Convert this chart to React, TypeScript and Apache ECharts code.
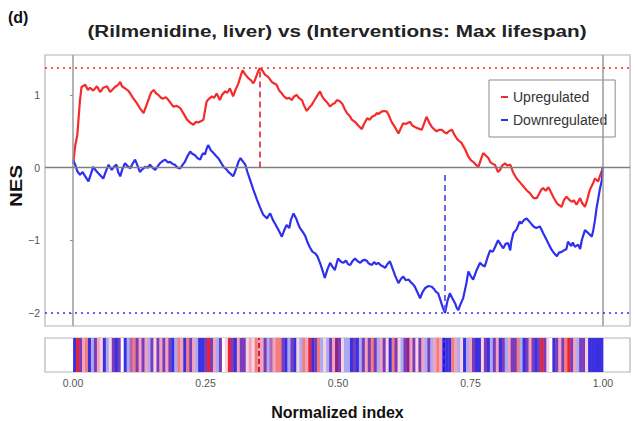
import React, { useEffect, useRef } from "react";
import * as echarts from "echarts";

const titleText = "(Rilmenidine, liver) vs (Interventions: Max lifespan)";
const panelLabel = "(d)";
const yAxisTitle = "NES";
const xAxisTitle = "Normalized index";
const seriesNames = ["Upregulated", "Downregulated"];
const yTicks = [-2, -1, 0, 1];
const xTicks = [0, 0.25, 0.5, 0.75, 1];

const upMax = 1.367;
const upMaxAt = 0.352;
const downMin = -2.005;
const downMinAt = 0.702;

const upregulated: [number, number][] = [
  [0.0, 0.05], [0.004, 0.3], [0.008, 0.45], [0.013, 0.93], [0.016, 1.11], [0.023, 1.14], [0.028, 1.07],
  [0.032, 1.1], [0.038, 1.06], [0.045, 1.12], [0.051, 1.04], [0.057, 1.1], [0.064, 1.12], [0.07, 1.04],
  [0.075, 1.08], [0.079, 1.11], [0.085, 1.14], [0.089, 1.18], [0.092, 1.12], [0.098, 1.09], [0.104, 1.06],
  [0.108, 1.02], [0.113, 0.96], [0.12, 0.89], [0.126, 0.82], [0.133, 0.75], [0.138, 0.85], [0.142, 0.93],
  [0.147, 1.03], [0.152, 1.07], [0.157, 1.02], [0.161, 1.0], [0.166, 0.96], [0.17, 0.95], [0.175, 0.97],
  [0.18, 0.93], [0.185, 0.88], [0.189, 0.84], [0.196, 0.85], [0.202, 0.82], [0.208, 0.75], [0.215, 0.66],
  [0.221, 0.62], [0.227, 0.59], [0.232, 0.63], [0.236, 0.62], [0.242, 0.64], [0.246, 0.66], [0.252, 0.91],
  [0.257, 0.95], [0.262, 0.98], [0.266, 0.96], [0.271, 1.02], [0.277, 0.93], [0.281, 1.0], [0.287, 1.05],
  [0.291, 1.03], [0.296, 1.09], [0.302, 0.98], [0.307, 1.08], [0.312, 1.16], [0.317, 1.28], [0.32, 1.34],
  [0.325, 1.28], [0.331, 1.23], [0.336, 1.2], [0.34, 1.16], [0.343, 1.2], [0.348, 1.3], [0.352, 1.367],
  [0.357, 1.34], [0.362, 1.28], [0.368, 1.25], [0.375, 1.18], [0.379, 1.16], [0.384, 1.14], [0.389, 1.06],
  [0.394, 1.02], [0.398, 0.98], [0.403, 0.95], [0.408, 0.96], [0.413, 0.93], [0.417, 0.98], [0.422, 1.0],
  [0.426, 0.96], [0.432, 0.93], [0.436, 0.85], [0.441, 0.78], [0.445, 0.82], [0.45, 0.86], [0.455, 0.92],
  [0.46, 0.98], [0.466, 1.05], [0.47, 0.98], [0.475, 0.93], [0.479, 0.9], [0.485, 0.84], [0.489, 0.87],
  [0.494, 0.89], [0.498, 0.93], [0.504, 0.91], [0.508, 0.88], [0.513, 0.8], [0.517, 0.75], [0.523, 0.7],
  [0.526, 0.66], [0.532, 0.63], [0.538, 0.58], [0.545, 0.53], [0.549, 0.6], [0.555, 0.68], [0.56, 0.66],
  [0.564, 0.7], [0.57, 0.72], [0.573, 0.75], [0.577, 0.74], [0.582, 0.77], [0.587, 0.78], [0.592, 0.77],
  [0.596, 0.72], [0.601, 0.63], [0.608, 0.55], [0.614, 0.47], [0.619, 0.55], [0.623, 0.61], [0.628, 0.6],
  [0.636, 0.63], [0.64, 0.58], [0.645, 0.56], [0.651, 0.54], [0.658, 0.52], [0.662, 0.6], [0.667, 0.7],
  [0.672, 0.62], [0.677, 0.56], [0.681, 0.53], [0.686, 0.5], [0.691, 0.52], [0.696, 0.52], [0.7, 0.49],
  [0.705, 0.47], [0.709, 0.5], [0.715, 0.52], [0.719, 0.46], [0.724, 0.4], [0.728, 0.37], [0.733, 0.34],
  [0.74, 0.25], [0.746, 0.15], [0.751, 0.1], [0.755, 0.08], [0.76, 0.04], [0.765, 0.01], [0.77, 0.12],
  [0.774, 0.2], [0.777, 0.18], [0.784, 0.13], [0.787, 0.08], [0.792, 0.05], [0.796, 0.04], [0.802, -0.06],
  [0.806, -0.03], [0.809, 0.02], [0.815, 0.06], [0.819, 0.03], [0.825, 0.04], [0.83, -0.06], [0.837, -0.15],
  [0.843, -0.2], [0.85, -0.26], [0.857, -0.32], [0.862, -0.35], [0.869, -0.42], [0.875, -0.42], [0.878, -0.38],
  [0.883, -0.31], [0.887, -0.28], [0.892, -0.32], [0.897, -0.27], [0.9, -0.31], [0.906, -0.4], [0.913, -0.49],
  [0.916, -0.51], [0.922, -0.54], [0.926, -0.45], [0.931, -0.4], [0.936, -0.44], [0.941, -0.47], [0.945, -0.45],
  [0.95, -0.51], [0.953, -0.47], [0.957, -0.42], [0.96, -0.48], [0.966, -0.54], [0.97, -0.45], [0.975, -0.31],
  [0.981, -0.22], [0.985, -0.15], [0.988, -0.17], [0.991, -0.19], [0.994, -0.12], [0.998, -0.04], [1.0, 0.01],
];

const downregulated: [number, number][] = [
  [0.0, 0.1], [0.004, 0.04], [0.008, -0.05], [0.013, -0.1], [0.018, -0.06], [0.023, -0.12], [0.029, -0.19],
  [0.034, -0.08], [0.038, 0.01], [0.043, -0.04], [0.048, -0.08], [0.053, -0.12], [0.057, -0.15], [0.062, -0.05],
  [0.067, 0.04], [0.07, 0.0], [0.073, -0.03], [0.077, 0.01], [0.082, 0.04], [0.085, -0.06], [0.089, -0.12],
  [0.093, -0.02], [0.098, 0.06], [0.103, 0.02], [0.108, -0.01], [0.112, 0.05], [0.117, 0.11], [0.122, 0.02],
  [0.126, -0.06], [0.131, -0.02], [0.136, 0.01], [0.141, 0.0], [0.145, 0.04], [0.15, 0.0], [0.155, -0.03],
  [0.16, 0.02], [0.164, 0.06], [0.169, 0.09], [0.174, 0.11], [0.179, 0.07], [0.183, 0.08], [0.188, 0.05],
  [0.192, 0.04], [0.197, 0.0], [0.202, -0.01], [0.207, 0.04], [0.211, 0.08], [0.216, 0.16], [0.221, 0.22],
  [0.225, 0.19], [0.23, 0.17], [0.235, 0.13], [0.24, 0.11], [0.243, 0.17], [0.246, 0.2], [0.249, 0.18],
  [0.252, 0.26], [0.255, 0.31], [0.26, 0.24], [0.265, 0.2], [0.27, 0.16], [0.274, 0.13], [0.279, 0.07],
  [0.284, 0.01], [0.289, -0.02], [0.293, -0.06], [0.298, -0.09], [0.302, -0.12], [0.306, -0.05], [0.309, 0.01],
  [0.312, 0.08], [0.316, 0.13], [0.321, 0.08], [0.325, 0.04], [0.329, -0.06], [0.334, -0.17], [0.34, -0.3],
  [0.347, -0.44], [0.353, -0.55], [0.359, -0.65], [0.366, -0.7], [0.369, -0.66], [0.372, -0.63], [0.377, -0.72],
  [0.381, -0.77], [0.387, -0.85], [0.394, -0.95], [0.398, -0.87], [0.403, -0.79], [0.408, -0.83], [0.411, -0.72],
  [0.416, -0.63], [0.421, -0.7], [0.425, -0.78], [0.428, -0.83], [0.433, -0.88], [0.438, -0.94], [0.442, -1.02],
  [0.447, -1.1], [0.452, -1.16], [0.457, -1.18], [0.461, -1.22], [0.466, -1.31], [0.471, -1.42], [0.475, -1.52],
  [0.48, -1.4], [0.485, -1.31], [0.489, -1.36], [0.494, -1.41], [0.497, -1.33], [0.5, -1.25], [0.506, -1.3],
  [0.51, -1.31], [0.515, -1.28], [0.519, -1.33], [0.523, -1.34], [0.527, -1.29], [0.532, -1.25], [0.537, -1.29],
  [0.542, -1.31], [0.546, -1.28], [0.55, -1.27], [0.554, -1.28], [0.558, -1.32], [0.564, -1.34], [0.568, -1.3],
  [0.572, -1.33], [0.576, -1.31], [0.58, -1.34], [0.585, -1.36], [0.589, -1.38], [0.593, -1.33], [0.598, -1.29],
  [0.603, -1.39], [0.608, -1.49], [0.614, -1.59], [0.619, -1.53], [0.623, -1.5], [0.628, -1.55], [0.633, -1.54],
  [0.638, -1.58], [0.642, -1.61], [0.645, -1.64], [0.65, -1.72], [0.655, -1.8], [0.659, -1.72], [0.664, -1.66],
  [0.67, -1.63], [0.677, -1.64], [0.681, -1.67], [0.685, -1.71], [0.689, -1.73], [0.694, -1.84], [0.698, -1.93],
  [0.702, -2.0], [0.706, -1.85], [0.711, -1.73], [0.716, -1.8], [0.721, -1.87], [0.724, -1.93], [0.727, -1.96],
  [0.73, -1.9], [0.736, -1.8], [0.742, -1.6], [0.746, -1.43], [0.751, -1.5], [0.755, -1.54], [0.761, -1.42],
  [0.768, -1.31], [0.772, -1.34], [0.777, -1.36], [0.782, -1.24], [0.787, -1.14], [0.792, -1.16], [0.796, -1.1],
  [0.802, -1.0], [0.807, -1.06], [0.812, -1.11], [0.816, -1.05], [0.821, -1.04], [0.825, -1.14], [0.827, -1.02],
  [0.831, -0.9], [0.837, -0.85], [0.843, -0.74], [0.846, -0.77], [0.851, -0.72], [0.856, -0.7], [0.862, -0.75],
  [0.869, -0.81], [0.874, -0.83], [0.881, -0.81], [0.887, -0.9], [0.894, -1.0], [0.898, -1.06], [0.903, -1.13],
  [0.908, -1.18], [0.913, -1.22], [0.917, -1.17], [0.922, -1.16], [0.926, -1.14], [0.931, -1.12], [0.934, -1.02],
  [0.94, -1.08], [0.943, -1.03], [0.947, -1.09], [0.953, -1.06], [0.957, -1.12], [0.96, -1.0], [0.966, -0.86],
  [0.972, -0.9], [0.979, -0.95], [0.982, -0.85], [0.985, -0.72], [0.988, -0.55], [0.991, -0.43], [0.994, -0.3],
  [0.998, -0.17], [1.0, 0.01],
];

// barcode: one colour code per equal slot across the normalized index 0..1
const barcodeCodes =
  "BRPpsBLPplBLlPBPWBLMsPpPpLPlPpPpPBLspBsPpLBBPRPpLPWlRPBpPPlp" +
  "lsppPLMpssPBLPBlLspRBPsLlLPpDPlLLBPBLPpPsPLpPlBsPlLPDpPlPpLP" +
  "LpspBBBspLlBLpPBBlPBLPpBPLpPPsLBPpPBPRPlWBPpPsRPpLPPlBBBBB";

const barcodePalette: Record<string, string> = {
  B: "#3b2fe2",
  R: "#f0202e",
  P: "#7b3cbc",
  p: "#f2a2ba",
  s: "#f27c7c",
  L: "#aaaaf2",
  l: "#f8d2de",
  M: "#b565b5",
  D: "#8e2282",
  W: "#ffffff",
};

const upColor = "#f52a2a";
const downColor = "#2f2ff0";
const FONT = "Liberation Sans, Arial, sans-serif";

export default function App() {
  const ref = useRef<HTMLDivElement>(null);

  useEffect(() => {
    if (!ref.current) return;
    const chart = echarts.init(ref.current, undefined, { renderer: "svg" });

    const paletteKeys = Object.keys(barcodePalette);
    const n = barcodeCodes.length;
    const barcodeData = barcodeCodes
      .split("")
      .map((c, i) => [i / n, (i + 1) / n, paletteKeys.indexOf(c)]);

    const xMin = -0.053;
    const xMax = 1.051;

    const option: any = {
      animation: false,
      backgroundColor: "#ffffff",
      textStyle: { fontFamily: FONT },
      grid: [
        { left: 45, top: 55, width: 585, height: 271, show: true, borderColor: "#b4b4b4", borderWidth: 1.2, backgroundColor: "transparent" },
        { left: 45, top: 338, width: 585, height: 39, show: true, borderColor: "#b4b4b4", borderWidth: 1.2, backgroundColor: "transparent" },
      ],
      xAxis: [
        {
          type: "value", gridIndex: 0, min: xMin, max: xMax,
          axisLine: { show: false }, axisTick: { show: false }, axisLabel: { show: false }, splitLine: { show: false },
        },
        {
          type: "value", gridIndex: 1, min: xMin, max: xMax,
          axisLine: { show: false },
          axisTick: { show: false },
          axisLabel: {
            show: true, customValues: xTicks, margin: 5, fontSize: 10.5, color: "#555", fontFamily: FONT,
            formatter: (v: number) => v.toFixed(2),
          },
          splitLine: { show: false },
          name: xAxisTitle, nameLocation: "middle", nameGap: 32,
          nameTextStyle: { fontSize: 16, fontWeight: "bold", color: "#111", fontFamily: FONT },
        },
      ],
      yAxis: [
        {
          type: "value", gridIndex: 0, min: -2.18, max: 1.55,
          axisLine: { show: false },
          axisTick: { show: true, customValues: yTicks, length: 3, lineStyle: { color: "#888" } },
          axisLabel: {
            show: true, customValues: yTicks, margin: 5, fontSize: 10.5, color: "#555", fontFamily: FONT,
            formatter: (v: number) => (v < 0 ? "\u2212" + Math.abs(v) : String(v)),
          },
          splitLine: { show: false },
        },
        {
          type: "value", gridIndex: 1, min: 0, max: 1,
          axisLine: { show: false }, axisTick: { show: false }, axisLabel: { show: false }, splitLine: { show: false },
        },
      ],
      legend: {
        data: seriesNames,
        orient: "vertical",
        left: 489,
        top: 80,
        padding: [10, 8, 10, 12],
        itemGap: 9,
        itemWidth: 7,
        itemHeight: 2,
        icon: "rect",
        borderColor: "#8a8a8a",
        borderWidth: 1,
        backgroundColor: "#fff",
        textStyle: { fontSize: 14, color: "#333", fontFamily: FONT, lineHeight: 14 },
      },
      graphic: [
        {
          type: "text", left: 8, top: 9,
          style: { text: panelLabel, font: `bold 16px ${FONT}`, fill: "#111" },
        },
        {
          type: "text", x: 337, y: 31, scaleX: 1.215,
          style: { text: titleText, font: `bold 17px ${FONT}`, fill: "#222", textAlign: "center", textVerticalAlign: "middle" },
        },
        {
          type: "text", x: 16, y: 186, rotation: Math.PI / 2, scaleX: 1.28,
          style: { text: yAxisTitle, font: `bold 16px ${FONT}`, fill: "#111", textAlign: "center", textVerticalAlign: "middle" },
        },
      ],
      series: [
        {
          name: "ref",
          type: "line",
          xAxisIndex: 0, yAxisIndex: 0,
          data: [],
          silent: true,
          markLine: {
            silent: true, symbol: ["none", "none"], label: { show: false },
            data: [
              { xAxis: 0, lineStyle: { color: "#9a9a9a", width: 1.5, type: "solid" } },
              { xAxis: 1, lineStyle: { color: "#9a9a9a", width: 1.5, type: "solid" } },
              { yAxis: 0, lineStyle: { color: "#808080", width: 1.3, type: "solid" } },
              { yAxis: upMax, lineStyle: { color: upColor, width: 1.5, type: [2, 4] } },
              { yAxis: downMin, lineStyle: { color: downColor, width: 1.5, type: [2, 4] } },
              [
                { coord: [upMaxAt, 0], lineStyle: { color: "#e23a4a", width: 1.8, type: [6, 4] } },
                { coord: [upMaxAt, upMax] },
              ],
              [
                { coord: [downMinAt, -0.1], lineStyle: { color: "#5a5ae6", width: 1.8, type: [6, 4] } },
                { coord: [downMinAt, downMin] },
              ],
            ],
          },
        },
        {
          name: seriesNames[0],
          type: "line",
          xAxisIndex: 0, yAxisIndex: 0,
          data: upregulated,
          showSymbol: false,
          symbol: "none",
          color: upColor,
          lineStyle: { color: upColor, width: 2.2 },
          z: 3,
        },
        {
          name: seriesNames[1],
          type: "line",
          xAxisIndex: 0, yAxisIndex: 0,
          data: downregulated,
          showSymbol: false,
          symbol: "none",
          color: downColor,
          lineStyle: { color: downColor, width: 2.2 },
          z: 3,
        },
        {
          name: "barcode",
          type: "custom",
          xAxisIndex: 1, yAxisIndex: 1,
          data: barcodeData,
          silent: true,
          renderItem: (_params: any, api: any) => {
            const s = api.value(0);
            const e = api.value(1);
            const c = paletteKeys[api.value(2)];
            const p0 = api.coord([s, 1]);
            const p1 = api.coord([e, 0]);
            return {
              type: "rect",
              shape: { x: p0[0], y: p0[1], width: p1[0] - p0[0] + 0.4, height: p1[1] - p0[1] },
              style: { fill: barcodePalette[c] },
            };
          },
          z: 2,
        },
        {
          name: "barcodeMarks",
          type: "line",
          xAxisIndex: 1, yAxisIndex: 1,
          data: [],
          silent: true,
          z: 4,
          markLine: {
            silent: true, symbol: ["none", "none"], label: { show: false },
            data: [
              { xAxis: upMaxAt, lineStyle: { color: "#d81c30", width: 2, type: [5, 3] } },
              { xAxis: downMinAt, lineStyle: { color: "#1a1ad8", width: 2, type: [5, 3] } },
            ],
          },
        },
      ],
    };

    chart.setOption(option);
    return () => chart.dispose();
  }, []);

  return (
    <div
      ref={ref}
      style={{ position: "fixed", left: 0, top: 0, width: 635, height: 421, background: "#fff" }}
    />
  );
}
